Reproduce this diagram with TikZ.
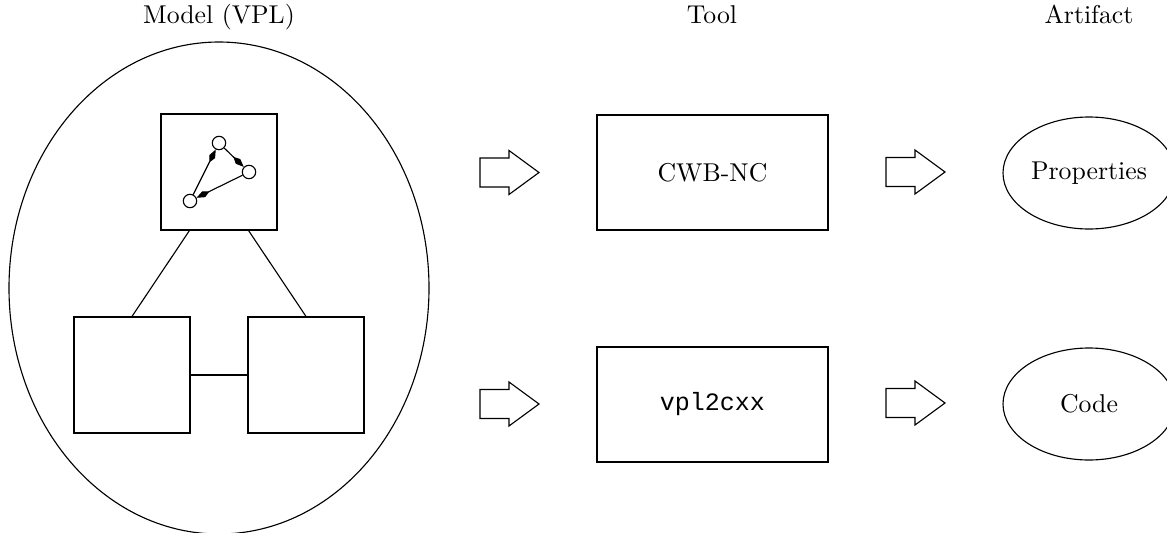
\documentclass[tikz,border=0pt]{standalone}
\usepackage{fontspec}
\setmonofont{Liberation Mono}
\usetikzlibrary{arrows.meta,shapes.geometric}
\begin{document}
\begin{tikzpicture}[x=0.4pt,y=-0.4pt,
  line width=0.45pt,
  every node/.style={font=\fontsize{10.3pt}{12pt}\selectfont},
  boxnode/.style={draw,rectangle,inner sep=0pt,minimum width={#1*0.4pt},minimum height={#1*0.4pt}},
  toolbox/.style={draw,rectangle,inner sep=0pt,minimum width={231*0.4pt},minimum height={115*0.4pt}},
  artnode/.style={draw,ellipse,inner sep=0pt,minimum width={172*0.4pt},minimum height={112*0.4pt}},
  state/.style={draw,circle,fill=white,inner sep=0pt,minimum size={13.4*0.4pt}},
  flow/.style={-{Kite[length=5.8pt,width=2.6pt,inset=2.6pt]}},
  heading/.style={anchor=base},
  blockarrow/.pic={\draw (0,-14.5) -- (29,-14.5) -- (29,-22) -- (59,0) -- (29,22) -- (29,14.5) -- (0,14.5) -- cycle;}
]
\useasboundingbox (0,0) rectangle (1167,533);

% column headings
\node[heading] (hmodel) at (219,23) {Model (VPL)};
\node[heading] (htool) at (712,23) {Tool};
\node[heading] (hart) at (1089,23) {Artifact};

% the model: an ellipse holding three components
\node[draw,ellipse,inner sep=0pt,minimum width={420*0.4pt},minimum height={492*0.4pt}] (model) at (219,288) {};
\node[boxnode=116] (top) at (219,172) {};
\node[boxnode=116] (left) at (132,375) {};
\node[boxnode=116] (right) at (306,375) {};
\path (top.south west) ++(29,0) coordinate (t1);
\path (top.south east) ++(-29,0) coordinate (t2);
\draw (t1) -- (left.north);
\draw (t2) -- (right.north);
\draw (left.east) -- (right.east -| right.west);

% little state graph inside the top component
\node[state] (s1) at (219,143) {};
\node[state] (s2) at (249,172) {};
\node[state] (s3) at (190,201) {};
\draw[flow] (s3) -- (s1);
\draw[flow] (s1) -- (s2);
\draw[flow] (s2) -- (s3);

% tools
\node[toolbox] (cwb) at (712.5,172.5) {CWB-NC};
\node[toolbox,font=\fontsize{10pt}{12pt}\ttfamily] (vpl) at (712.5,404.5) {vpl2cxx};

% artifacts
\node[artnode] (prop) at (1089,173) {Properties};
\node[artnode] (code) at (1089,404) {Code};

% block arrows
\pic at (480,172.5) {blockarrow};
\pic at (886,172) {blockarrow};
\pic at (480,404) {blockarrow};
\pic at (886,403) {blockarrow};
\end{tikzpicture}
\end{document}
